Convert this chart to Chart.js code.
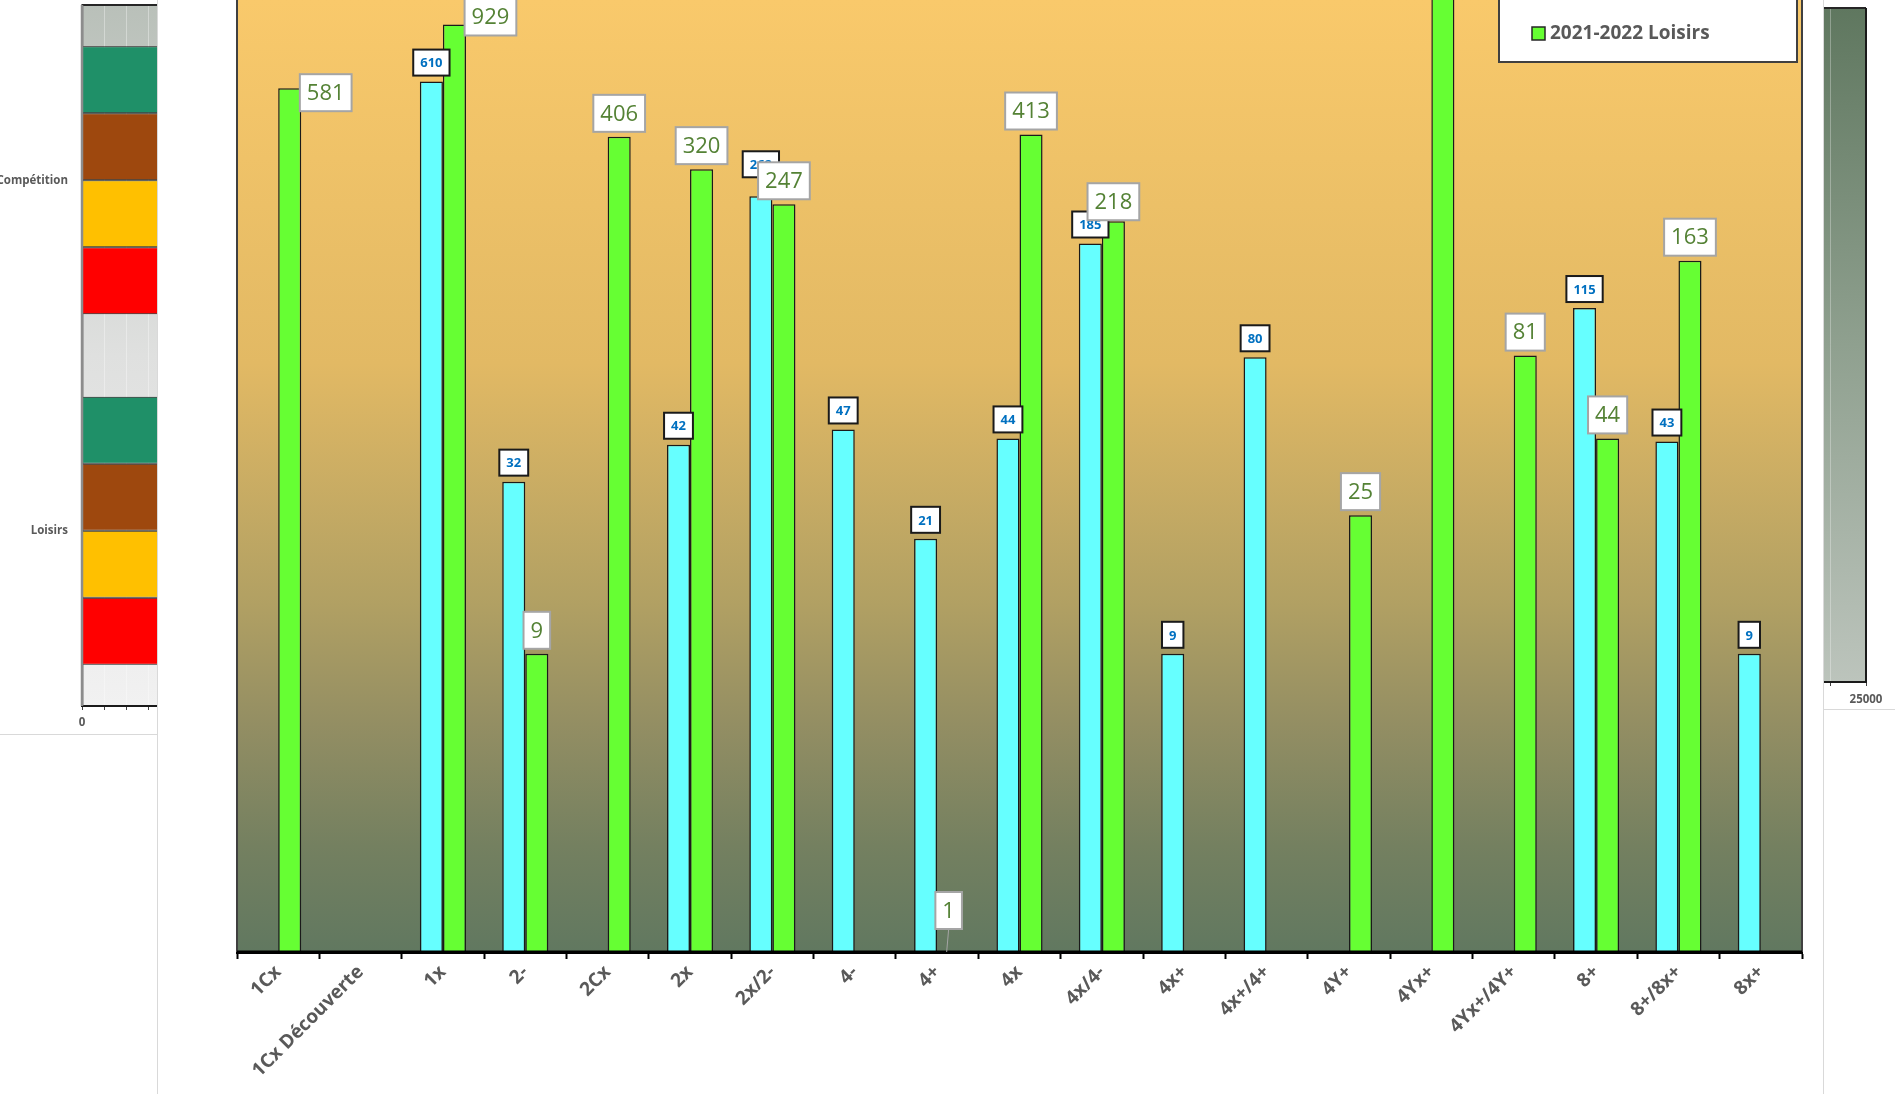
<!DOCTYPE html>
<html>
<head>
<meta charset="utf-8">
<script src="https://cdn.jsdelivr.net/npm/chart.js@4.4.1/dist/chart.umd.min.js"></script>
<style>
  html, body { margin: 0; padding: 0; background: #fff; overflow: hidden; width: 1895px; height: 1094px; position: relative; }
  #leftBox { position: absolute; left: 0; top: 0; width: 157px; height: 734px; overflow: hidden; border-bottom: 1px solid #d9d9d9; }
  #rightBox { position: absolute; left: 1824px; top: 0; width: 71px; height: 709px; overflow: hidden; border-bottom: 1px solid #d9d9d9; }
  #mainBox { position: absolute; left: 157px; top: -400px; width: 1665px; height: 1494px; background: #fff; border-left: 1px solid #d9d9d9; border-right: 1px solid #d9d9d9; }
  canvas { position: absolute; top: 0; }
</style>
</head>
<body>
<div id="leftBox"><canvas id="leftChart" width="700" height="734" style="left:0"></canvas></div>
<div id="rightBox"><canvas id="rightChart" width="295" height="709" style="left:-224px"></canvas></div>
<div id="mainBox"><canvas id="mainChart" width="1665" height="1494" style="left:0"></canvas></div>
<script>
// main chart data
const categories = ["1Cx", "1Cx Découverte", "1x", "2-", "2Cx", "2x", "2x/2-", "4-", "4+", "4x", "4x/4-",
  "4x+", "4x+/4+", "4Y+", "4Yx+", "4Yx+/4Y+", "8+", "8+/8x+", "8x+"];
const competition = [null, null, 610, 32, null, 42, 262, 47, 21, 44, 185, 9, 80, null, null, null, 115, 43, 9];
const loisirs = [581, null, 929, 9, 406, 320, 247, null, 1, 413, 218, null, null, 25, 1250, 81, 44, 163, null];
const seriesNames = ["2021-2022 Compétition", "2021-2022 Loisirs"];

// neighbouring charts (only their edges show)
const sideCategories = ["Compétition", "Loisirs"];
const sideGreen = [9000, 7000];
const sideBrown = [8000, 6500];
const sideYellow = [7500, 6000];
const sideRed = [6000, 5000];

const grey = "#595959";

// gradient fill of the plot area
const plotBg = {
  id: "plotBg",
  beforeDraw(chart, args, opts) {
    const { ctx, chartArea: a } = chart;
    const g = ctx.createLinearGradient(0, a.top, 0, a.bottom);
    opts.stops.forEach(([p, c]) => g.addColorStop(p, c));
    ctx.save();
    ctx.fillStyle = g;
    ctx.fillRect(a.left, a.top, a.right - a.left, a.bottom - a.top);
    ctx.restore();
  }
};

// plot area border, side by side
const plotFrame = {
  id: "plotFrame",
  afterDatasetsDraw(chart, args, opts) {
    const { ctx, chartArea: a } = chart;
    const lines = {
      top: [a.left, a.top, a.right, a.top],
      right: [a.right, a.top, a.right, a.bottom],
      bottom: [a.left, a.bottom, a.right, a.bottom],
      left: [a.left, a.top, a.left, a.bottom]
    };
    ctx.save();
    Object.keys(opts.sides).forEach((k) => {
      const [color, width] = opts.sides[k];
      const l = lines[k];
      ctx.strokeStyle = color;
      ctx.lineWidth = width;
      ctx.beginPath();
      ctx.moveTo(l[0], l[1]);
      ctx.lineTo(l[2], l[3]);
      ctx.stroke();
    });
    ctx.restore();
  }
};

// data labels in boxes above the bars
const valueLabels = {
  id: "valueLabels",
  afterDraw(chart, args, opts) {
    const ctx = chart.ctx;
    chart.data.datasets.forEach((ds, di) => {
      const st = opts.styles[di];
      const meta = chart.getDatasetMeta(di);
      meta.data.forEach((bar, i) => {
        const v = ds.data[i];
        if (v == null) return;
        const n = opts.nudges[di + ":" + i] || { dx: 0, dy: 0 };
        ctx.save();
        ctx.font = st.font;
        const txt = String(v);
        const w = ctx.measureText(txt).width + st.padX * 2;
        const cx = bar.x + n.dx;
        const bottom = bar.y - st.gap + n.dy;
        const top = bottom - st.height;
        if (n.leader) {
          ctx.strokeStyle = st.border;
          ctx.lineWidth = 1;
          ctx.beginPath();
          ctx.moveTo(cx, bottom);
          ctx.lineTo(bar.x - 2, bar.y);
          ctx.stroke();
        }
        ctx.fillStyle = "#fff";
        ctx.fillRect(cx - w / 2, top, w, st.height);
        ctx.strokeStyle = st.border;
        ctx.lineWidth = 2;
        ctx.strokeRect(cx - w / 2, top, w, st.height);
        ctx.fillStyle = st.color;
        ctx.textAlign = "center";
        ctx.textBaseline = "middle";
        ctx.fillText(txt, cx, top + st.height / 2 + 1);
        ctx.restore();
      });
    });
  }
};

// boxed legend inside the plot, top right
const boxLegend = {
  id: "boxLegend",
  afterDraw(chart, args, opts) {
    const ctx = chart.ctx;
    ctx.save();
    ctx.fillStyle = "#fff";
    ctx.fillRect(opts.x, opts.y, opts.w, opts.h);
    ctx.strokeStyle = "#404040";
    ctx.lineWidth = 2;
    ctx.strokeRect(opts.x, opts.y, opts.w, opts.h);
    ctx.font = "bold 19px 'Open Sans'";
    ctx.textBaseline = "middle";
    chart.data.datasets.forEach((ds, i) => {
      const y = opts.rows[i];
      ctx.fillStyle = ds.backgroundColor;
      ctx.fillRect(opts.x + 33, y - 6, 13, 13);
      ctx.strokeStyle = "#262626";
      ctx.lineWidth = 1.5;
      ctx.strokeRect(opts.x + 33, y - 6, 13, 13);
      ctx.fillStyle = grey;
      ctx.fillText(ds.label, opts.x + 51, y + 1);
    });
    ctx.restore();
  }
};

// main chart: canvas top is page y -400, left is page x 158
const pageStop = (y) => (y + 298) / 1250;

new Chart(document.getElementById("mainChart"), {
  type: "bar",
  data: {
    labels: categories,
    datasets: [
      { label: seriesNames[0], data: competition, backgroundColor: "#66ffff" },
      { label: seriesNames[1], data: loisirs, backgroundColor: "#66ff33" }
    ]
  },
  options: {
    responsive: false,
    animation: false,
    layout: { padding: { left: 79, right: 21, top: 102, bottom: 0 } },
    datasets: { bar: { categoryPercentage: 0.56, barPercentage: 1, borderColor: "#1a1a1a", borderWidth: 1.5 } },
    plugins: {
      legend: { display: false },
      tooltip: { enabled: false },
      plotBg: {
        stops: [
          [0, "#fccd71"], [pageStop(0), "#f9c96b"], [pageStop(363), "#e2b964"], [pageStop(604), "#b1a063"],
          [pageStop(725), "#938e63"], [pageStop(846), "#748060"], [1, "#617860"]
        ]
      },
      plotFrame: { sides: { left: ["#404040", 2], right: ["#404040", 2], top: ["#404040", 2], bottom: ["#000", 3] } },
      valueLabels: {
        styles: [
          { font: "bold 13px 'Open Sans'", color: "#0070c0", border: "#1a1a1a", padX: 7, height: 26, gap: 6 },
          { font: "22px 'Open Sans'", color: "#548235", border: "#a5a5a5", padX: 7, height: 37, gap: 5 }
        ],
        nudges: {
          "0:6": { dx: 0, dy: -13 },
          "1:0": { dx: 36, dy: 28 },
          "1:2": { dx: 36, dy: 16 },
          "1:8": { dx: 0, dy: -18, leader: true },
          "1:10": { dx: 0, dy: 4 }
        }
      },
      boxLegend: { x: 1341, y: 320, w: 298, h: 142, rows: [375, 433] }
    },
    scales: {
      x: {
        grid: { offset: true, drawOnChartArea: false, tickLength: 7, tickColor: "#000", tickWidth: 2 },
        border: { color: "#000", width: 3 },
        ticks: {
          minRotation: 45, maxRotation: 45, autoSkip: false, padding: 2,
          color: grey, font: { family: "Open Sans", size: 19, weight: "bold" }
        },
        afterFit: (s) => { s.height = 142; }
      },
      y: { type: "logarithmic", min: 1, max: 10000, display: false }
    }
  },
  plugins: [plotBg, plotFrame, valueLabels, boxLegend]
});

// left neighbour: horizontal bars
new Chart(document.getElementById("leftChart"), {
  type: "bar",
  data: {
    labels: sideCategories,
    datasets: [
      { data: sideGreen, backgroundColor: "#1f9068" },
      { data: sideBrown, backgroundColor: "#9e480e" },
      { data: sideYellow, backgroundColor: "#ffc000" },
      { data: sideRed, backgroundColor: "#ff0000" }
    ]
  },
  options: {
    indexAxis: "y",
    responsive: false,
    animation: false,
    layout: { padding: { left: 0, right: 2, top: 5, bottom: 0 } },
    datasets: { bar: { categoryPercentage: 0.765, barPercentage: 1, borderColor: "#1a1a1a", borderWidth: 1 } },
    plugins: {
      legend: { display: false },
      tooltip: { enabled: false },
      plotBg: { stops: [[0, "#b9c0b9"], [0.5, "#dfe0df"], [1, "#f1f1f1"]] },
      plotFrame: { sides: { top: ["#262626", 2], left: ["#8c8c8c", 2.5] } }
    },
    scales: {
      y: {
        grid: { drawOnChartArea: false, drawTicks: false },
        border: { color: "#8c8c8c", width: 2.5 },
        ticks: { padding: 14, color: grey, font: { family: "Open Sans", size: 11.5, weight: "bold" } },
        afterFit: (s) => { s.width = 82; s.paddingTop = 0; s.paddingBottom = 0; }
      },
      x: {
        min: 0, max: 28000,
        grid: { color: "rgba(255,255,255,0.35)", tickLength: 4, tickColor: "#404040" },
        border: { color: "#1a1a1a", width: 2 },
        ticks: {
          stepSize: 1000, autoSkip: false, maxRotation: 0, padding: 6, color: grey,
          font: { family: "Open Sans", size: 11.5, weight: "bold" },
          callback: (v) => (v % 5000 === 0 ? v : "")
        },
        afterFit: (s) => { s.height = 28; s.paddingLeft = 0; s.paddingRight = 0; }
      }
    }
  },
  plugins: [plotBg, plotFrame]
});

// right neighbour: only its plot edge and last tick show
new Chart(document.getElementById("rightChart"), {
  type: "bar",
  data: { labels: sideCategories, datasets: [] },
  options: {
    indexAxis: "y",
    responsive: false,
    animation: false,
    layout: { padding: { left: 86, right: 29, top: 8, bottom: 0 } },
    plugins: {
      legend: { display: false },
      tooltip: { enabled: false },
      plotBg: { stops: [[0, "#5f775f"], [0.5, "#8fa08f"], [1, "#bcc4bc"]] },
      plotFrame: { sides: { top: ["#262626", 2], right: ["#1a1a1a", 2] } }
    },
    scales: {
      y: { display: false },
      x: {
        min: 0, max: 25000,
        grid: { color: "rgba(255,255,255,0.3)", tickLength: 4, tickColor: "#404040" },
        border: { color: "#1a1a1a", width: 2 },
        ticks: {
          stepSize: 5000, autoSkip: false, maxRotation: 0, padding: 7, color: grey,
          font: { family: "Open Sans", size: 11.5, weight: "bold" },
          callback: (v) => (v % 25000 === 0 && v > 0 ? v : "")
        },
        afterFit: (s) => { s.height = 27; s.paddingLeft = 0; s.paddingRight = 0; }
      }
    }
  },
  plugins: [plotBg, plotFrame]
});
</script>
</body>
</html>
